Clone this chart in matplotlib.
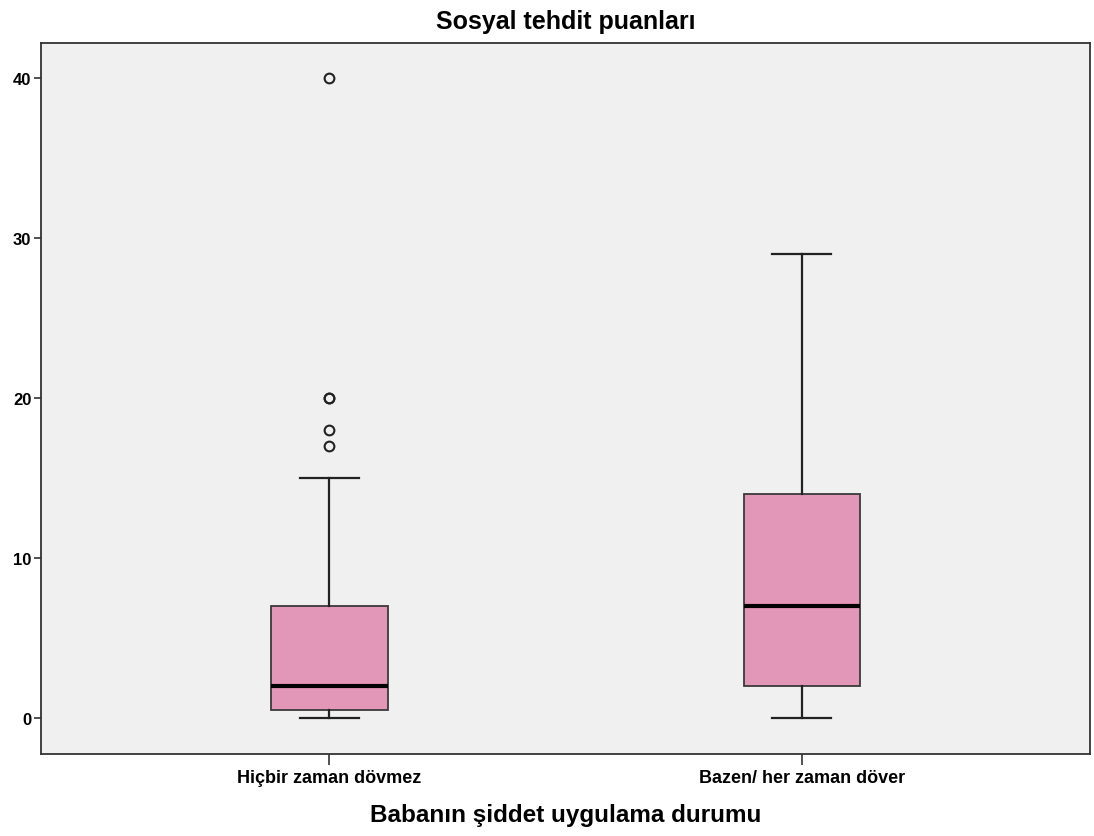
import matplotlib
matplotlib.use('Agg')
import matplotlib.pyplot as plt

# group labels and box statistics
categories = ['Hiçbir zaman dövmez', 'Bazen/ her zaman döver']
q1 = [0.5, 2]
median = [2, 7]
q3 = [7, 14]
whislo = [0, 0]
whishi = [15, 29]
outliers = [[17, 18, 20, 20, 40], []]
yticks = [0, 10, 20, 30, 40]

plt.rcParams['font.family'] = ['Liberation Sans', 'DejaVu Sans']

fig = plt.figure(figsize=(10.94, 8.37), dpi=100)
ax = fig.add_axes([0.0375, 0.098, 0.959, 0.8494])
ax.set_facecolor('#f0f0f0')

stats = []
for i in range(len(categories)):
    stats.append({'label': categories[i], 'q1': q1[i], 'med': median[i], 'q3': q3[i],
                  'whislo': whislo[i], 'whishi': whishi[i], 'fliers': outliers[i]})

ax.bxp(stats, positions=[1, 2], widths=0.247, capwidths=0.125, patch_artist=True,
       boxprops=dict(facecolor='#e397b8', edgecolor='#3a3a3a', linewidth=1.3),
       medianprops=dict(color='black', linewidth=3),
       whiskerprops=dict(color='#222222', linewidth=1.6),
       capprops=dict(color='#222222', linewidth=1.6),
       flierprops=dict(marker='o', markerfacecolor='none', markeredgecolor='#222222',
                       markersize=7, markeredgewidth=1.5))

ax.set_xlim(0.39, 2.61)
ax.set_ylim(-2.25, 42.19)
ax.set_yticks(yticks)
ax.set_yticklabels([str(t) for t in yticks], fontsize=12, fontweight='bold')
ax.set_xticks([1, 2])
ax.set_xticklabels(categories, fontsize=13, fontweight='bold')
ax.tick_params(axis='y', length=5, width=1.2, color='#333333', pad=2)
ax.tick_params(axis='x', length=8, width=1.2, color='#333333', pad=3)
for s in ax.spines.values():
    s.set_color('#333333')
    s.set_linewidth(1.3)

ax.set_title('Sosyal tehdit puanları', fontsize=18, fontweight='bold', pad=11)
ax.set_xlabel('Babanın şiddet uygulama durumu', fontsize=17.5, fontweight='bold', labelpad=12)

plt.savefig('out.png', dpi=100)
plt.close()
